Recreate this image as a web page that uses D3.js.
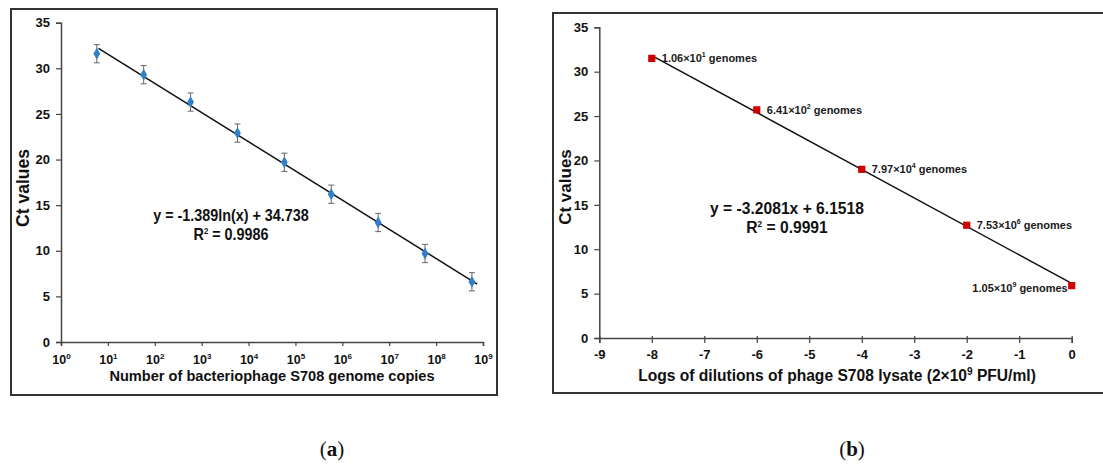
<!DOCTYPE html>
<html>
<head>
<meta charset="utf-8">
<script src="https://cdn.jsdelivr.net/npm/d3@7"></script>
<style>
  body { margin: 0; background: #fff; }
  svg { display: block; font-family: "Liberation Sans", Arial, sans-serif; }
</style>
</head>
<body>
<div id="chart"></div>
<script>
// Panel (a): standard curve against genome copies
var copiesA = [5.8, 58, 580, 5800, 58000, 580000, 5.8e6, 5.8e7, 5.8e8];
var ctA = [31.6, 29.3, 26.3, 22.9, 19.7, 16.2, 13.1, 9.7, 6.6];
var errA = [1.0, 1.0, 1.0, 1.0, 1.0, 1.0, 1.0, 1.0, 1.0];
var fitA = [-1.389, 34.738]; // slope on ln(x), intercept
var fitRangeA = [6.3, 7.5e8];
var eqA = ['y = -1.389ln(x) + 34.738', '0.9986'];
var xTicksA = [0, 1, 2, 3, 4, 5, 6, 7, 8, 9]; // exponents of 10
var yTicks = [0, 5, 10, 15, 20, 25, 30, 35];

// Panel (b): standard curve against dilutions
var dilutionB = [-8, -6, -4, -2, 0];
var ctB = [31.5, 25.7, 19.0, 12.7, 5.9];
var genomeMant = ['1.06', '6.41', '7.97', '7.53', '1.05'];
var genomeExp = ['1', '2', '4', '6', '9'];
var fitB = [-3.2081, 6.1518];
var eqB = ['y = -3.2081x + 6.1518', '0.9991'];
var xTicksB = [-9, -8, -7, -6, -5, -4, -3, -2, -1, 0];

var svg = d3.select('#chart').append('svg')
  .attr('width', 1103)
  .attr('height', 469);

// Outer frames
svg.append('rect')
  .attr('x', 11).attr('y', 9).attr('width', 486).attr('height', 386)
  .style('fill', 'none').style('stroke', '#333').style('stroke-width', 2);
svg.append('rect')
  .attr('x', 553).attr('y', 13).attr('width', 600).attr('height', 380)
  .style('fill', 'none').style('stroke', '#333').style('stroke-width', 2);

// helper for bold axis text
function styleAxis(g, size) {
  g.selectAll('path.domain').style('stroke', '#444').style('stroke-width', 1.5);
  g.selectAll('.tick line').style('stroke', '#444').style('stroke-width', 1.2);
  g.selectAll('text')
    .style('font-family', '"Liberation Sans", Arial, sans-serif')
    .style('font-size', size + 'px')
    .style('font-weight', 'bold')
    .style('fill', '#111');
}

// equation text, a bit narrower than the font
function equation(x, y, size, sx, line1, r2) {
  var g = svg.append('g').attr('transform', 'translate(' + x + ',0) scale(' + sx + ',1)');
  g.append('text').attr('x', 0).attr('y', y).attr('text-anchor', 'middle')
    .style('font-size', size + 'px').style('font-weight', 'bold').style('fill', '#111')
    .text(line1);
  var r = g.append('text').attr('x', 0).attr('y', y + 19).attr('text-anchor', 'middle')
    .style('font-size', size + 'px').style('font-weight', 'bold').style('fill', '#111');
  r.append('tspan').text('R');
  r.append('tspan').attr('dy', -6).style('font-size', '9px').text('2');
  r.append('tspan').attr('dy', 6).text(' = ' + r2);
}

// ---------- panel (a) ----------
var xA = d3.scaleLog().domain([1, 1e9]).range([61, 483]);
var yA = d3.scaleLinear().domain([0, 35]).range([342, 22.7]);

var gyA = svg.append('g')
  .attr('transform', 'translate(61,0)')
  .call(d3.axisLeft(yA).tickValues(yTicks).tickSize(5).tickPadding(6));
styleAxis(gyA, 13);

var gxA = svg.append('g')
  .attr('transform', 'translate(0,342)')
  .call(d3.axisBottom(xA).tickValues(xTicksA.map(function(e) { return Math.pow(10, e); }))
    .tickSize(4).tickPadding(6).tickFormat(''));
styleAxis(gxA, 12);
gxA.selectAll('.tick').each(function(d, i) {
  var t = d3.select(this).append('text')
    .attr('y', 22)
    .attr('text-anchor', 'middle')
    .style('font-size', '12.5px')
    .style('font-weight', 'bold')
    .style('fill', '#111');
  t.append('tspan').text('10');
  t.append('tspan').attr('dy', -5).style('font-size', '8px').text(xTicksA[i]);
});

// trend line
svg.append('line')
  .attr('x1', xA(fitRangeA[0])).attr('y1', yA(fitA[0] * Math.log(fitRangeA[0]) + fitA[1]))
  .attr('x2', xA(fitRangeA[1])).attr('y2', yA(fitA[0] * Math.log(fitRangeA[1]) + fitA[1]))
  .style('stroke', '#111').style('stroke-width', 1.5);

// error bars
var eb = svg.selectAll('g.err').data(copiesA).enter().append('g').attr('class', 'err');
eb.append('line')
  .attr('x1', function(d) { return xA(d); }).attr('x2', function(d) { return xA(d); })
  .attr('y1', function(d, i) { return yA(ctA[i] + errA[i]); })
  .attr('y2', function(d, i) { return yA(ctA[i] - errA[i]); })
  .style('stroke', '#666').style('stroke-width', 1);
[1, -1].forEach(function(s) {
  eb.append('line')
    .attr('x1', function(d) { return xA(d) - 3; }).attr('x2', function(d) { return xA(d) + 3; })
    .attr('y1', function(d, i) { return yA(ctA[i] + s * errA[i]); })
    .attr('y2', function(d, i) { return yA(ctA[i] + s * errA[i]); })
    .style('stroke', '#666').style('stroke-width', 1);
});

// diamonds
svg.selectAll('path.dia').data(copiesA).enter().append('path')
  .attr('class', 'dia')
  .attr('d', d3.symbol().type(d3.symbolDiamond).size(40))
  .attr('transform', function(d, i) { return 'translate(' + xA(d) + ',' + yA(ctA[i]) + ')'; })
  .style('fill', '#2f80c8');

equation(231, 221, 16.5, 0.87, eqA[0], eqA[1]);

// axis titles
svg.append('text')
  .attr('transform', 'translate(29,188) rotate(-90)')
  .attr('text-anchor', 'middle')
  .style('font-size', '17.5px').style('font-weight', 'bold').style('fill', '#111')
  .text('Ct values');
svg.append('text').attr('x', 272).attr('y', 381).attr('text-anchor', 'middle')
  .style('font-size', '14.6px').style('font-weight', 'bold').style('fill', '#111')
  .text('Number of bacteriophage S708 genome copies');

// ---------- panel (b) ----------
var xB = d3.scaleLinear().domain([-9, 0]).range([599.3, 1071.7]);
var yB = d3.scaleLinear().domain([0, 35]).range([338, 27.3]);

var gyB = svg.append('g')
  .attr('transform', 'translate(599.3,0)')
  .call(d3.axisLeft(yB).tickValues(yTicks).tickSize(5).tickPadding(6));
styleAxis(gyB, 13);

var gxB = svg.append('g')
  .attr('transform', 'translate(0,338)')
  .call(d3.axisBottom(xB).tickValues(xTicksB).tickSize(5).tickPadding(7)
    .tickFormat(function(d) { return String(d); }));
styleAxis(gxB, 13);
gxB.selectAll('.tick line').attr('y1', -2);

// trend line
svg.append('line')
  .attr('x1', xB(dilutionB[0])).attr('y1', yB(fitB[0] * dilutionB[0] + fitB[1]))
  .attr('x2', xB(0)).attr('y2', yB(fitB[1]))
  .style('stroke', '#111').style('stroke-width', 1.5);

// squares
svg.selectAll('path.sq').data(dilutionB).enter().append('path')
  .attr('class', 'sq')
  .attr('d', d3.symbol().type(d3.symbolSquare).size(52))
  .attr('transform', function(d, i) { return 'translate(' + xB(d) + ',' + yB(ctB[i]) + ')'; })
  .style('fill', '#d00000');

// genome labels
var lab = svg.selectAll('text.gen').data(dilutionB).enter().append('text')
  .attr('class', 'gen')
  .attr('x', function(d, i) { return i === 4 ? xB(d) - 4 : xB(d) + 10; })
  .attr('y', function(d, i) { return yB(ctB[i]) + (i === 4 ? 6 : 4); })
  .attr('text-anchor', function(d, i) { return i === 4 ? 'end' : 'start'; })
  .style('font-size', '11px').style('font-weight', 'bold').style('fill', '#1a1a1a');
lab.append('tspan').text(function(d, i) { return genomeMant[i] + '\u00d710'; });
lab.append('tspan').attr('dy', -5).style('font-size', '7px').text(function(d, i) { return genomeExp[i]; });
lab.append('tspan').attr('dy', 5).text(' genomes');

equation(787, 214, 17, 0.92, eqB[0], eqB[1]);

// axis titles
svg.append('text')
  .attr('transform', 'translate(571,187) rotate(-90)')
  .attr('text-anchor', 'middle')
  .style('font-size', '17px').style('font-weight', 'bold').style('fill', '#111')
  .text('Ct values');
var tB = svg.append('text').attr('x', 837).attr('y', 381).attr('text-anchor', 'middle')
  .style('font-size', '15.6px').style('font-weight', 'bold').style('fill', '#111');
tB.append('tspan').text('Logs of dilutions of phage S708 lysate (2\u00d710');
tB.append('tspan').attr('dy', -6).style('font-size', '10px').text('9');
tB.append('tspan').attr('dy', 6).text(' PFU/ml)');

// panel captions
[['a', 332], ['b', 852]].forEach(function(c) {
  var t = svg.append('text').attr('x', c[1]).attr('y', 456).attr('text-anchor', 'middle')
    .style('font-family', '"Liberation Serif", "DejaVu Serif", serif')
    .style('font-size', '21px').style('fill', '#111');
  t.append('tspan').text('(');
  t.append('tspan').style('font-weight', 'bold').text(c[0]);
  t.append('tspan').text(')');
});
</script>
</body>
</html>
